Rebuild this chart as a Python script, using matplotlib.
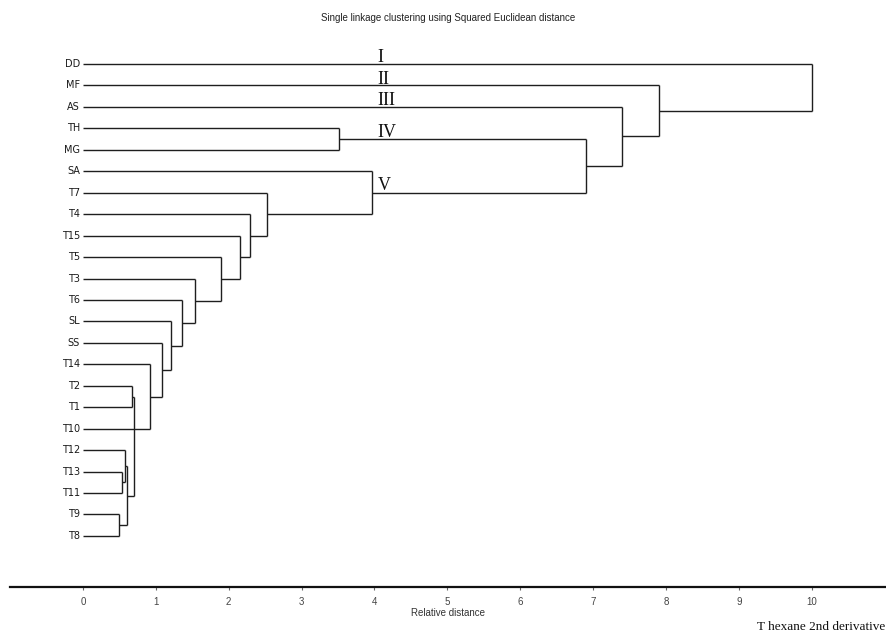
import matplotlib.pyplot as plt
import numpy as np

# leaf order, top to bottom
labels = ['DD', 'MF', 'AS', 'TH', 'MG', 'SA', 'T7', 'T4', 'T15', 'T5', 'T3', 'T6',
          'SL', 'SS', 'T14', 'T2', 'T1', 'T10', 'T12', 'T13', 'T11', 'T9', 'T8']

# merges: children (leaf names or earlier node ids) and the joining distance
merge_children = [
    ['T9', 'T8'],          # n0
    ['T13', 'T11'],        # n1
    ['T12', 'n1'],         # n2
    ['n2', 'n0'],          # n3
    ['T2', 'T1'],          # n4
    ['n4', 'T10', 'n3'],   # n5
    ['T14', 'n5'],         # n6
    ['SS', 'n6'],          # n7
    ['SL', 'n7'],          # n8
    ['T6', 'n8'],          # n9
    ['T3', 'n9'],          # n10
    ['T5', 'n10'],         # n11
    ['T15', 'n11'],        # n12
    ['T4', 'n12'],         # n13
    ['T7', 'n13'],         # n14
    ['SA', 'n14'],         # n15
    ['TH', 'MG'],          # n16
    ['n16', 'n15'],        # n17
    ['AS', 'n17'],         # n18
    ['MF', 'n18'],         # n19
    ['DD', 'n19'],         # n20
]
merge_height = [0.49, 0.54, 0.58, 0.60, 0.67, 0.70, 0.92, 1.08, 1.21, 1.36, 1.54,
                1.89, 2.16, 2.29, 2.53, 3.96, 3.52, 6.90, 7.40, 7.90, 10.0]

cluster_names = ['I', 'II', 'III', 'IV', 'V']
cluster_rows = [0, 1, 2, 3.5, 5.95]  # row positions the numerals sit on

x_ticks = list(range(0, 11))

line_col = '#1e1e1e'

fig = plt.figure(figsize=(8.86, 6.42), dpi=100)
ax = fig.add_axes([0.0113, 0.0857, 0.988, 0.852])

# node positions: (x, y)
pos = {name: (0.0, i) for i, name in enumerate(labels)}
for k, (kids, h) in enumerate(zip(merge_children, merge_height)):
    ys = []
    for c in kids:
        cx, cy = pos[c]
        ax.plot([cx, h], [cy, cy], color=line_col, lw=1.0, solid_capstyle='butt')
        ys.append(cy)
    ax.plot([h, h], [min(ys), max(ys)], color=line_col, lw=1.0, solid_capstyle='butt')
    pos['n%d' % k] = (h, float(np.median(ys)))

# leaf labels
for i, name in enumerate(labels):
    ax.text(-0.04, i, name, ha='right', va='center', fontsize=7,
            family='DejaVu Sans', color='#1a1a1a')

# roman numerals
for name, r in zip(cluster_names, cluster_rows):
    ax.text(4.04, r - 0.08, name, ha='left', va='baseline', fontsize=13,
            family='Liberation Serif', color='#111111')

ax.set_xlim(-1.0, 11.01)
ax.set_ylim(24.38, -1.12)
ax.set_yticks([])
ax.set_xticks(x_ticks)
ax.set_xticklabels([str(t) for t in x_ticks], fontsize=7, family='Liberation Sans',
                   color='#444444')
ax.tick_params(axis='x', length=2, width=0.8, pad=5, color='#666666')
for s in ['top', 'left', 'right']:
    ax.spines[s].set_visible(False)
ax.spines['bottom'].set_linewidth(1.6)
ax.spines['bottom'].set_color('#111111')
ax.set_xlabel('Relative distance', fontsize=7, family='Liberation Sans',
              color='#333333', labelpad=1)

fig.text(0.506, 0.972, 'Single linkage clustering using Squared Euclidean distance',
         ha='center', va='center', fontsize=7, family='Liberation Sans', color='#222222')
fig.text(0.999, 0.023, 'T hexane 2nd derivative', ha='right', va='center',
         fontsize=9.5, family='Liberation Serif', color='#111111')

plt.savefig('out.png', dpi=100)
